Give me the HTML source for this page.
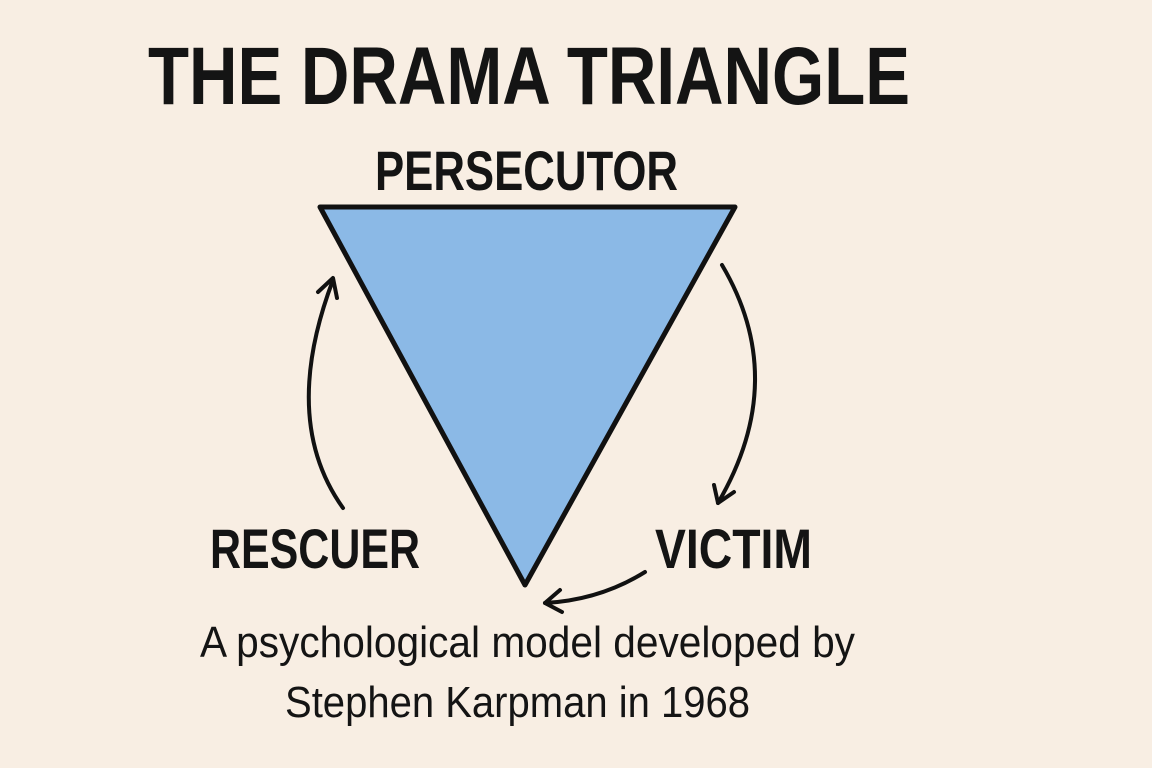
<!DOCTYPE html>
<html><head><meta charset="utf-8"><style>html,body{margin:0;padding:0;background:#f8eee3}svg{display:block}</style></head>
<body>
<svg width="1152" height="768" viewBox="0 0 1152 768" xmlns="http://www.w3.org/2000/svg">
<rect width="1152" height="768" fill="#f8eee3"/>
<g font-family="'Liberation Sans', 'DejaVu Sans', sans-serif" fill="#141414">
<text x="148" y="104" font-size="82" font-weight="bold" textLength="762" lengthAdjust="spacingAndGlyphs">THE DRAMA TRIANGLE</text>
<text x="375" y="190" font-size="56" font-weight="bold" textLength="303" lengthAdjust="spacingAndGlyphs">PERSECUTOR</text>
<text x="210" y="568" font-size="56" font-weight="bold" textLength="210" lengthAdjust="spacingAndGlyphs">RESCUER</text>
<text x="655" y="568" font-size="56" font-weight="bold" textLength="157" lengthAdjust="spacingAndGlyphs">VICTIM</text>
<text x="200" y="657" font-size="44" textLength="655" lengthAdjust="spacingAndGlyphs">A psychological model developed by</text>
<text x="285" y="717" font-size="44" textLength="465" lengthAdjust="spacingAndGlyphs">Stephen Karpman in 1968</text>
</g>
<polygon points="320,207 735,207 525,585" fill="#8bb9e6" stroke="#111" stroke-width="5" stroke-linejoin="round"/>
<g fill="none" stroke="#111" stroke-width="4" stroke-linecap="round" stroke-linejoin="round">
<path d="M343,508 Q280,420 333,280"/>
<path d="M318,292 L333,278 L337,298"/>
<path d="M722,265 Q790,380 718,503"/>
<path d="M714,485 L718,503 L734,492"/>
<path d="M645,572 Q600,600 545,603"/>
<path d="M560,590 L545,603 L562,612"/>
</g>
</svg>
</body></html>
